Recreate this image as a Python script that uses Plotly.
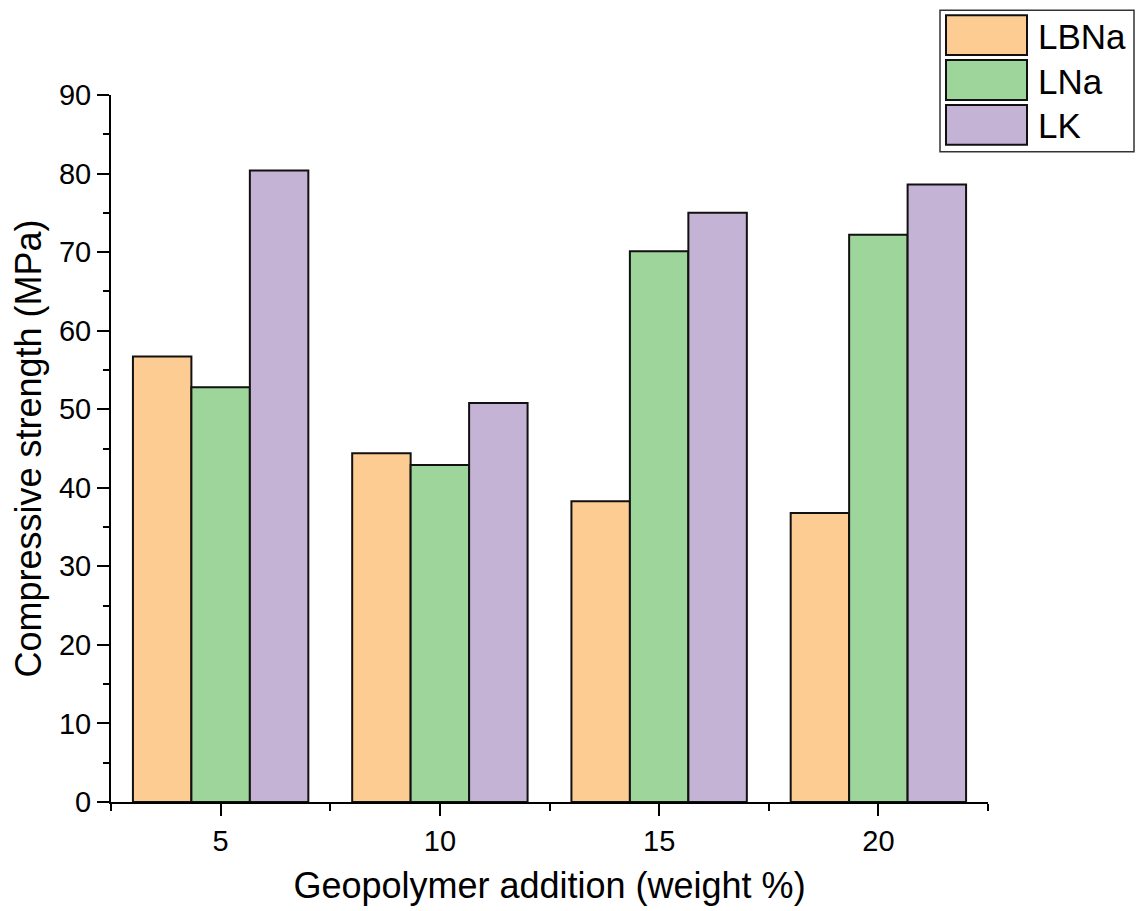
import plotly.graph_objects as go

additions = [5, 10, 15, 20]
series_names = ["LBNa", "LNa", "LK"]
lbna = [56.7, 44.4, 38.3, 36.8]
lna = [52.8, 42.9, 70.1, 72.2]
lk = [80.4, 50.8, 75.0, 78.6]
colors = ["#FDCC93", "#9DD59B", "#C5B3D6"]
x_ticks = [5, 10, 15, 20]
y_ticks = [0, 10, 20, 30, 40, 50, 60, 70, 80, 90]

FONT = "Arial, Liberation Sans, sans-serif"

fig = go.Figure()
for name, vals, col in zip(series_names, [lbna, lna, lk], colors):
    fig.add_trace(go.Bar(
        x=additions, y=vals, name=name,
        marker=dict(color=col, line=dict(color="#111111", width=2)),
        showlegend=False,
    ))

fig.update_layout(
    width=1137, height=911,
    margin=dict(l=111, r=149, t=95, b=107),
    paper_bgcolor="white", plot_bgcolor="white",
    barmode="group", bargap=0.2, bargroupgap=0,
    font=dict(family=FONT, color="black"),
)

fig.update_xaxes(
    range=[2.5, 22.5], tickvals=x_ticks, ticktext=[str(v) for v in x_ticks],
    ticks="outside", ticklen=12, tickwidth=2, tickcolor="black",
    showline=True, linecolor="black", linewidth=2,
    showgrid=False, zeroline=False,
    tickfont=dict(size=29, family=FONT, color="black"),
    minor=dict(tickvals=[2.5, 7.5, 12.5, 17.5, 22.5], ticks="outside", ticklen=7,
               tickwidth=2, tickcolor="black", showgrid=False),
    title=dict(text="Geopolymer addition (weight %)", font=dict(size=36, family=FONT, color="black"),
               standoff=17),
)
fig.update_yaxes(
    range=[0, 90], tickvals=y_ticks,
    ticks="outside", ticklen=12, tickwidth=2, tickcolor="black",
    showline=True, linecolor="black", linewidth=2,
    showgrid=False, zeroline=False,
    tickfont=dict(size=29, family=FONT, color="black"),
    minor=dict(dtick=5, tick0=0, ticks="outside", ticklen=6,
               tickwidth=2, tickcolor="black", showgrid=False),
    title=dict(text="Compressive strength (MPa)", font=dict(size=36, family=FONT, color="black"),
               standoff=6),
)

# Custom legend (frame, swatches, labels) in paper coordinates
W, H = 1137, 911
pl, pr, pt, pb = 111, 149, 95, 107
pw, ph = W - pl - pr, H - pt - pb

def px2x(px):
    return (px - pl) / pw

def px2y(py):
    return (H - pb - py) / ph

shapes = [dict(type="rect", xref="paper", yref="paper",
               x0=px2x(940), x1=px2x(1134), y0=px2y(152), y1=px2y(10),
               line=dict(color="#333333", width=1.5), fillcolor="white", layer="above")]
annotations = []
sw_tops = [15, 60, 105]
for name, col, top in zip(series_names, colors, sw_tops):
    shapes.append(dict(type="rect", xref="paper", yref="paper",
                       x0=px2x(946), x1=px2x(1027), y0=px2y(top + 40), y1=px2y(top),
                       line=dict(color="#111111", width=2), fillcolor=col, layer="above"))
    annotations.append(dict(xref="paper", yref="paper", x=px2x(1036), y=px2y(top + 21),
                            text=name, showarrow=False, xanchor="left", yanchor="middle",
                            font=dict(size=35, family=FONT, color="black")))
fig.update_layout(shapes=shapes, annotations=annotations)

fig.write_html("out.html")
